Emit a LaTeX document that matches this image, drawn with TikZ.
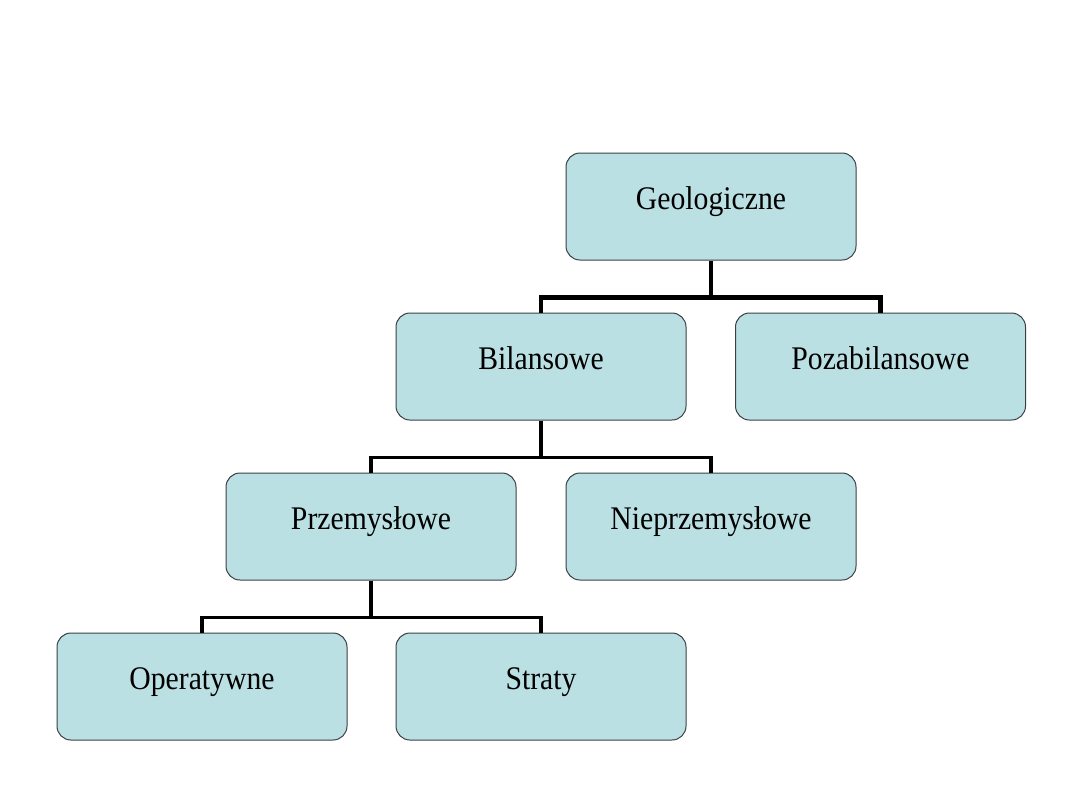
\documentclass[tikz,border=0pt]{standalone}
\usepackage{fontspec}
\setmainfont{Liberation Serif}
\newfontfamily\boxfont{Liberation Serif}[FakeStretch=0.9]
\usetikzlibrary{calc}
\definecolor{boxfill}{HTML}{BBE0E3}
\definecolor{boxline}{HTML}{3A3F44}

\begin{document}
\begin{tikzpicture}[x=0.5pt,y=-0.5pt]
\def\boxW{145pt}
\def\boxH{53.5pt}
\def\drop{37}

\tikzset{
    kind/.style = {draw = boxline, line width = 0.5pt, fill = boxfill,
        rounded corners = 7pt, minimum width = \boxW, minimum height = \boxH,
        inner sep = 0pt, text height = 11.3pt, text depth = 8.5pt,
        font = \boxfont\fontsize{16.5}{20}\selectfont},
    tree/.style = {draw = black, line width = 1.6pt, line join = miter},
    treetop/.style = {tree, line width = 2.1pt}
}

    \useasboundingbox (0,0) rectangle (1080,810);

    \node[kind] (geo) at (711, 206.5) {Geologiczne};
    \node[kind] (bil) at (541, 366.5) {Bilansowe};
    \node[kind] (poz) at (880.5, 366.5) {Pozabilansowe};
    \node[kind] (prz) at (371, 526.5) {Przemysłowe};
    \node[kind] (nie) at (711, 526.5) {Nieprzemysłowe};
    \node[kind] (ope) at (202, 686.5) {Operatywne};
    \node[kind] (str) at (541, 686.5) {Straty};

    %Connectors
    \draw[treetop] (geo.south) -- ++(0,\drop) coordinate (G);
    \draw[treetop] (bil.north) |- (G) -| (poz.north);

    \draw[tree] (bil.south) -- ++(0,\drop) coordinate (B);
    \draw[tree] (prz.north) |- (B) -| (nie.north);

    \draw[tree] (prz.south) -- ++(0,\drop) coordinate (P);
    \draw[tree] (ope.north) |- (P) -| (str.north);
\end{tikzpicture}
\end{document}
